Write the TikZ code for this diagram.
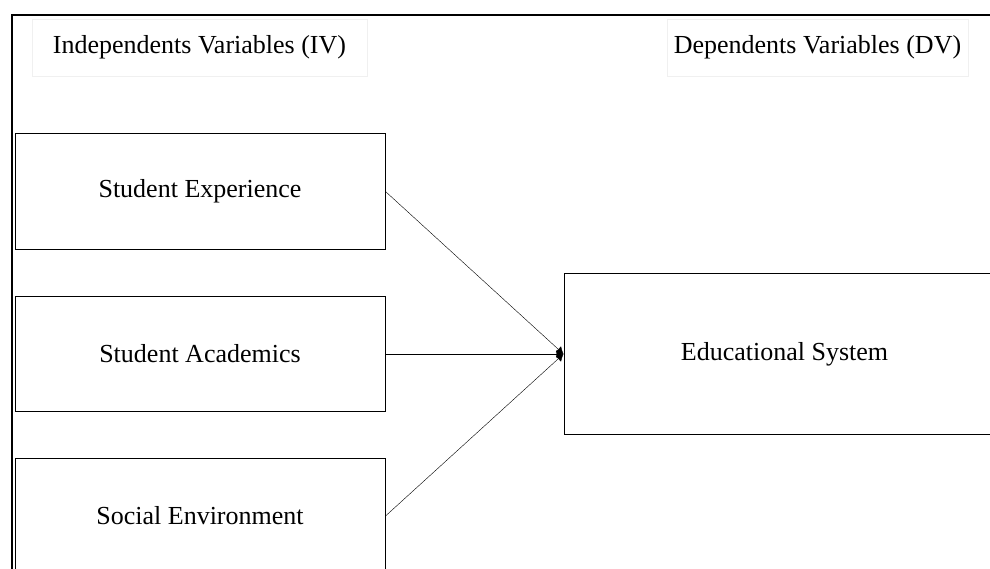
\documentclass[tikz,border=0pt]{standalone}
\usepackage{fontspec}
\setmainfont{Liberation Serif}
\usetikzlibrary{shapes,arrows.meta,positioning}

\begin{document}
\begin{tikzpicture}[
		x=1pt, y=-1pt,
		font=\fontsize{26}{30}\selectfont,
		block/.style={draw, fill=white, line width=1pt, minimum height=115.5pt, minimum width=370pt},
		head/.style={draw=black!6, fill=white, line width=0.6pt, minimum height=57pt}
	]
		\useasboundingbox (0,0) rectangle (990,568);
		\draw[line width=2.5pt] (12,590) -- (12,15) -- (1010,15);

		\node[head, minimum width=335pt] (iv head) at (199.5,47.5) {Independents Variables (IV)};
		\node[head, minimum width=301pt] (dv head) at (817.5,47.5) {Dependents Variables (DV)};

		\node[block] (stud exp) at (200,191.5) {Student Experience};
		\node[block, below=46pt of stud exp] (stud acad) {Student Academics};
		\node[block, below=45.5pt of stud acad] (soc env) {Social Environment};
		\node[block, right=178pt of stud acad, minimum width=441pt, minimum height=161pt] (edu sys) {Educational System};

		\draw[-{Latex[length=7pt,width=8pt]}] (stud exp.east) -- (edu sys.west);
		\draw[-{Latex[length=7pt,width=8pt]}] (stud acad) -- (edu sys);
		\draw[-{Latex[length=7pt,width=8pt]}] (soc env.east) -- (edu sys.west);
	\end{tikzpicture}
\end{document}
